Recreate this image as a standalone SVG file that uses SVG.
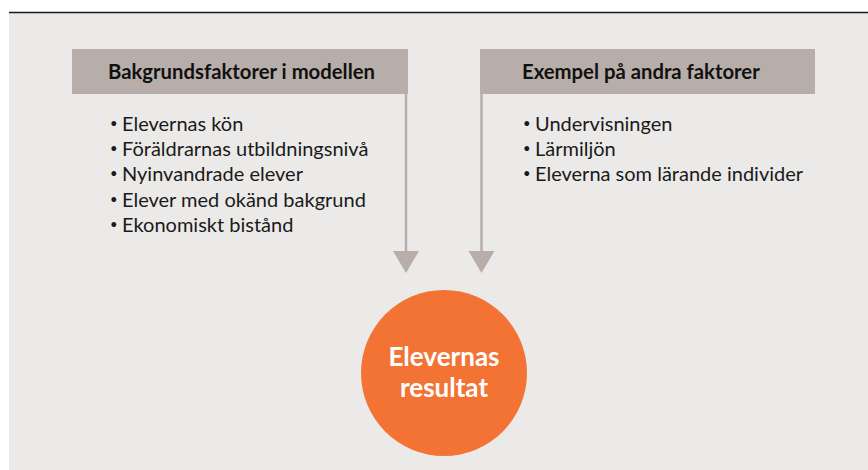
<svg xmlns="http://www.w3.org/2000/svg" width="868" height="470" viewBox="0 0 868 470">
<defs>
<style>
.hdr{fill:#B7AEAA}
.ht{font-family:Lato,"Noto Sans",sans-serif;font-weight:bold;font-size:20.3px;fill:#111}
.li{font-family:Lato,"Noto Sans",sans-serif;font-size:20px;fill:#1a1a1a}
.bu{font-size:13px}
.ct{font-family:Lato,"Noto Sans",sans-serif;font-weight:bold;font-size:26px;fill:#fff;text-anchor:middle}
.conn{stroke:#B7AEAA;stroke-width:2.5;fill:none}
.head{fill:#B7AEAA}
</style>
</defs>
<rect x="0" y="0" width="868" height="470" fill="#fff"/>
<rect x="9" y="12" width="859" height="458" fill="#ECEAE8"/>
<line x1="9" y1="12.5" x2="868" y2="12.5" stroke="#1a1a1a" stroke-width="1.5"/>
<g id="bakgrund">
<rect class="hdr" x="72" y="49" width="336" height="45"/>
<text class="ht" x="108" y="79">Bakgrundsfaktorer i modellen</text>
<text class="li"><tspan class="bu" x="110" y="128">•</tspan><tspan x="122" y="131">Elevernas kön</tspan></text>
<text class="li"><tspan class="bu" x="110" y="153">•</tspan><tspan x="122" y="156">Föräldrarnas utbildningsnivå</tspan></text>
<text class="li"><tspan class="bu" x="110" y="178">•</tspan><tspan x="122" y="181">Nyinvandrade elever</tspan></text>
<text class="li"><tspan class="bu" x="110" y="204">•</tspan><tspan x="122" y="207">Elever med okänd bakgrund</tspan></text>
<text class="li"><tspan class="bu" x="110" y="229">•</tspan><tspan x="122" y="232">Ekonomiskt bistånd</tspan></text>
</g>
<g id="exempel">
<rect class="hdr" x="480" y="49" width="335" height="45"/>
<text class="ht" x="522" y="79">Exempel på andra faktorer</text>
<text class="li"><tspan class="bu" x="523" y="128">•</tspan><tspan x="535" y="131">Undervisningen</tspan></text>
<text class="li"><tspan class="bu" x="523" y="153">•</tspan><tspan x="535" y="156">Lärmiljön</tspan></text>
<text class="li"><tspan class="bu" x="523" y="178">•</tspan><tspan x="535" y="181">Eleverna som lärande individer</tspan></text>
</g>
<g id="connectors">
<line class="conn" x1="406" y1="94" x2="406" y2="252"/>
<polygon class="head" points="393,251 419,251 406,273"/>
<line class="conn" x1="481.5" y1="94" x2="481.5" y2="252"/>
<polygon class="head" points="468.5,251 494.5,251 481.5,273"/>
</g>
<g id="resultat">
<circle cx="444" cy="373" r="83" fill="#F37335"/>
<text class="ct" x="444" y="366">Elevernas</text>
<text class="ct" x="444" y="397">resultat</text>
</g>
</svg>
